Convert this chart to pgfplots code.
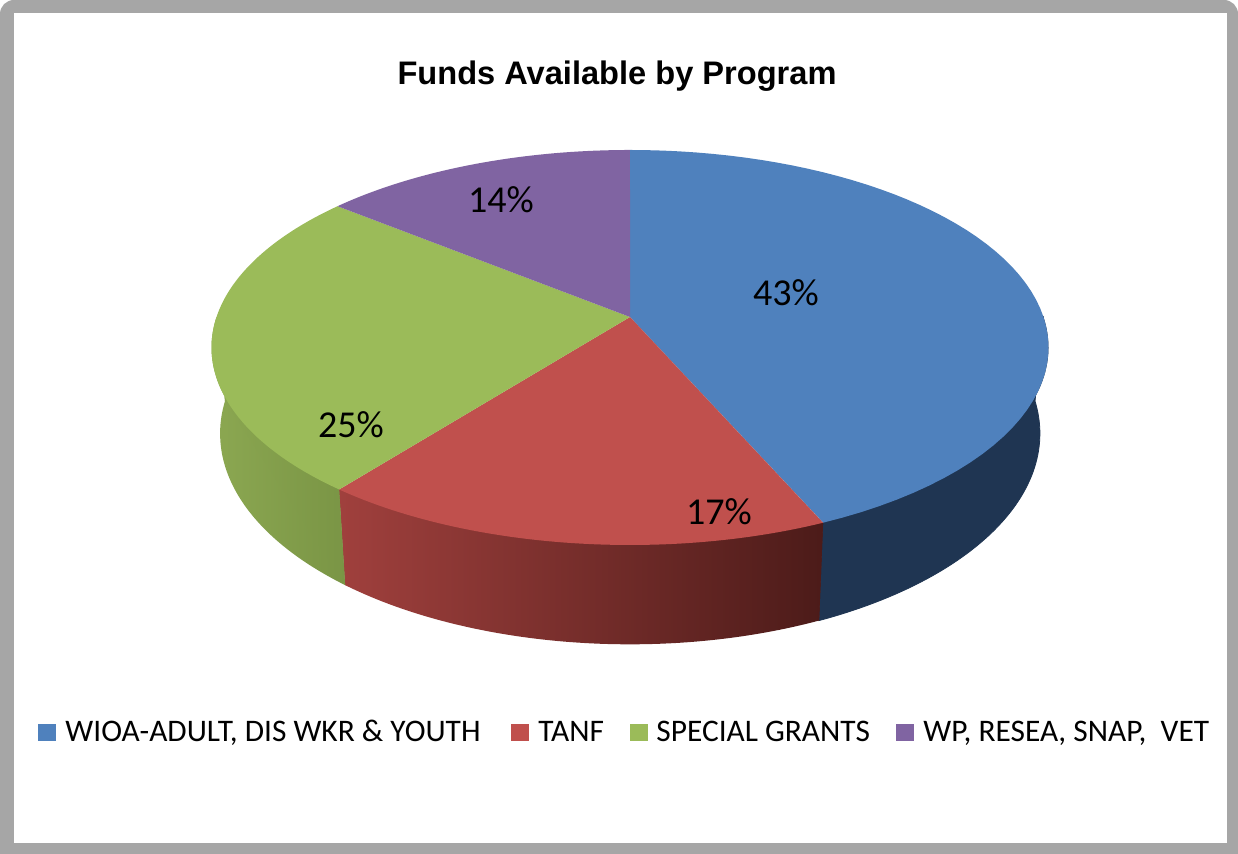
\documentclass[border=0pt]{standalone}
\usepackage{pgfplots}
\pgfplotsset{compat=1.18}
\usepackage{pgfplotstable}
\usepackage{fontspec}
\setmainfont{Carlito}
\newfontfamily\titlefont{Liberation Sans}
\definecolor{cblue}{HTML}{4F81BD}
\definecolor{cred}{HTML}{C0504D}
\definecolor{cgreen}{HTML}{9BBB59}
\definecolor{cpurple}{HTML}{8064A2}
\definecolor{sblue}{HTML}{1F3552}
\definecolor{sredL}{HTML}{A0403D}
\definecolor{sredR}{HTML}{4C1B19}
\definecolor{sgreenL}{HTML}{8BA751}
\definecolor{sgreenR}{HTML}{7A9545}
\definecolor{framegray}{HTML}{A6A6A6}

\pgfplotstableread{
label value
WIOA 43
TANF 17
SPECIAL 25
WP 14
}\piedata

\begin{document}
\begin{tikzpicture}[
  declare function={
    W(\p)=1+0.1544*cos(\p);
    PX(\p)=630+413.5*sin(\p)/W(\p);
    PY(\p)=320-192.8*cos(\p)/W(\p);
    QX(\p)=630+405*sin(\p)/W(\p);
    QY(\p)=404-192.8*cos(\p)/W(\p)+84/W(\p)-84;
  }]
\pgfplotstablegetelem{0}{value}\of\piedata \pgfmathsetmacro{\vA}{\pgfplotsretval}
\pgfplotstablegetelem{1}{value}\of\piedata \pgfmathsetmacro{\vB}{\pgfplotsretval}
\pgfplotstablegetelem{2}{value}\of\piedata \pgfmathsetmacro{\vC}{\pgfplotsretval}
\pgfplotstablegetelem{3}{value}\of\piedata \pgfmathsetmacro{\vD}{\pgfplotsretval}
\pgfmathsetmacro{\tot}{\vA+\vB+\vC+\vD}
\pgfmathsetmacro{\aB}{360*(\vA/\tot)}
\pgfmathsetmacro{\aC}{360*((\vA+\vB)/\tot)}
\pgfmathsetmacro{\aD}{360*((\vA+\vB+\vC)/\tot)}
\begin{axis}[name=ax, width=619pt, height=428.5pt, scale only axis,
  xmin=0, xmax=1238, ymin=0, ymax=857, y dir=reverse,
  hide axis, ticks=none, axis lines=none, clip=false, samples=60, variable=\t]
% frame
\fill[framegray] (axis cs:0,857) [rounded corners=7pt]-- (axis cs:0,3) -- (axis cs:1238,3) [sharp corners]-- (axis cs:1238,857) -- cycle;
\fill[white] (axis cs:14,16) rectangle (axis cs:1227,846);
% sides: each face = bottom arc + top edge, and top arc + bottom edge
\addplot[fill=sblue, draw=sblue, domain=90:\aB] ({QX(\t)},{QY(\t)}) -- (axis cs:{PX(\aB)},{PY(\aB)}) -- (axis cs:{PX(90)},{PY(90)}) -- cycle;
\addplot[fill=sblue, draw=none, domain=90:\aB] ({PX(\t)},{PY(\t)}) -- (axis cs:{QX(\aB)},{QY(\aB)}) -- (axis cs:{QX(90)},{QY(90)}) -- cycle;
\addplot[draw=none, left color=sredL, right color=sredR, domain=\aB:\aC] ({QX(\t)},{QY(\t)}) -- (axis cs:{PX(\aC)},{PY(\aC)}) -- (axis cs:{PX(\aB)},{PY(\aB)}) -- cycle;
\addplot[draw=none, left color=sredL, right color=sredR, domain=\aB:\aC] ({PX(\t)},{PY(\t)}) -- (axis cs:{QX(\aC)},{QY(\aC)}) -- (axis cs:{QX(\aB)},{QY(\aB)}) -- cycle;
\addplot[draw=none, left color=sgreenL, right color=sgreenR, domain=\aC:270] ({QX(\t)},{QY(\t)}) -- (axis cs:{PX(270)},{PY(270)}) -- (axis cs:{PX(\aC)},{PY(\aC)}) -- cycle;
\addplot[draw=none, left color=sgreenL, right color=sgreenR, domain=\aC:270] ({PX(\t)},{PY(\t)}) -- (axis cs:{QX(270)},{QY(270)}) -- (axis cs:{QX(\aC)},{QY(\aC)}) -- cycle;
% top faces
\addplot[fill=cblue, draw=none, domain=0:\aB] ({PX(\t)},{PY(\t)}) -- (axis cs:630,320) -- cycle;
\addplot[fill=cred, draw=none, domain=\aB:\aC] ({PX(\t)},{PY(\t)}) -- (axis cs:630,320) -- cycle;
\addplot[fill=cgreen, draw=none, domain=\aC:\aD] ({PX(\t)},{PY(\t)}) -- (axis cs:630,320) -- cycle;
\addplot[fill=cpurple, draw=none, domain=\aD:360] ({PX(\t)},{PY(\t)}) -- (axis cs:630,320) -- cycle;
% labels
\node[font=\fontsize{19}{21}\selectfont] at (axis cs:786,296) {43\%};
\node[font=\fontsize{19}{21}\selectfont] at (axis cs:719,515) {17\%};
\node[font=\fontsize{19}{21}\selectfont] at (axis cs:351,428) {25\%};
\node[font=\fontsize{19}{21}\selectfont] at (axis cs:501,203) {14\%};
% title
\node[anchor=base, inner sep=0, font=\titlefont\bfseries\fontsize{16.3}{18}\selectfont] at (axis cs:617,88) {Funds Available by Program};
% legend
\fill[cblue] (axis cs:38,727) rectangle (axis cs:56,744);
\fill[cred] (axis cs:511,727) rectangle (axis cs:529,744);
\fill[cgreen] (axis cs:630,727) rectangle (axis cs:648,744);
\fill[cpurple] (axis cs:896,727) rectangle (axis cs:914,744);
\node[anchor=base west, inner sep=0, font=\fontsize{15.7}{17}\selectfont] at (axis cs:65,745) {WIOA-ADULT, DIS WKR \& YOUTH};
\node[anchor=base west, inner sep=0, font=\fontsize{15.7}{17}\selectfont] at (axis cs:538,745) {TANF};
\node[anchor=base west, inner sep=0, font=\fontsize{15.7}{17}\selectfont] at (axis cs:656,745) {SPECIAL GRANTS};
\node[anchor=base west, inner sep=0, font=\fontsize{15.7}{17}\selectfont] at (axis cs:923,745) {WP, RESEA, SNAP,\ \ VET};
\end{axis}
\end{tikzpicture}
\end{document}
